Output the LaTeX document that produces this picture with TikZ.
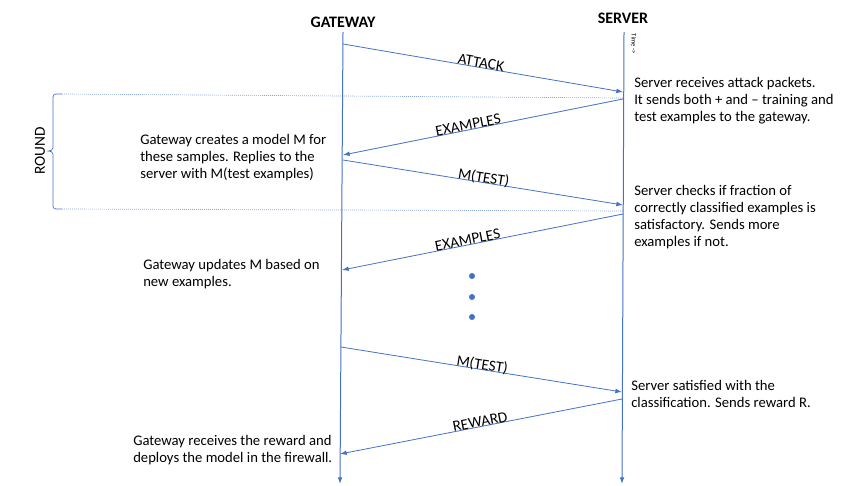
\documentclass[tikz,border=0pt]{standalone}
\usepackage{fontspec}
\setmainfont{Carlito}
\usetikzlibrary{arrows.meta}
\definecolor{lineblue}{HTML}{4472C4}

\begin{document}
\begin{tikzpicture}[x=0.75pt,y=-0.75pt,
                     msg/.style={draw=lineblue,line width=0.6pt,-{Latex[length=5pt,width=3.5pt]}},
                     life/.style={draw=lineblue,line width=0.75pt,-{Latex[length=5pt,width=3.5pt]}},
                     round line/.style={draw=lineblue,densely dotted,line width=0.5pt},
                     msg label/.style={sloped,anchor=base,inner sep=1pt,font=\fontsize{11.5}{13}\selectfont},
                     note/.style={align=left,anchor=base west,inner sep=0pt,font=\fontsize{11}{12.75}\selectfont},
                     actor/.style={font=\bfseries\fontsize{12}{14}\selectfont},
                     dot/.style={circle,fill=lineblue,inner sep=0pt,minimum size=4.5pt}
                    ]
   \useasboundingbox (0,0) rectangle (862,485);
   % actors and lifelines
   \node[actor] (gateway) at (343,22) {GATEWAY};
   \node[actor] (server) at (623,18) {SERVER};
   \node[rotate=-90,font=\fontsize{5}{6}\selectfont,inner sep=0pt] (time) at (634,44) {Time ->};
   \coordinate (gwtop) at (343,32);
   \coordinate (gwend) at (340,484);
   \coordinate (svtop) at (624,32);
   \coordinate (svend) at (622,484);
   \path[life] (gwtop) -- (gwend);
   \path[life] (svtop) -- (svend);
   % ends of the messages
   \coordinate (g1) at (343,44);   \coordinate (s1) at (623,92);
   \coordinate (s2) at (623,99);   \coordinate (g2) at (343,155);
   \coordinate (g3) at (343,160);  \coordinate (s3) at (623,205);
   \coordinate (s4) at (623,214);  \coordinate (g4) at (342,270);
   \coordinate (g5) at (341,347);  \coordinate (s5) at (622,392);
   \coordinate (s6) at (622,399);  \coordinate (g6) at (340,454);
   \path%
     (g1) edge[msg] node[msg label,pos=0.49] {ATTACK} (s1)
     (s2) edge[msg] node[msg label,pos=0.55] {EXAMPLES} (g2)
     (g3) edge[msg] node[msg label] {M(TEST)} (s3)
     (s4) edge[msg] node[msg label,pos=0.55] {EXAMPLES} (g4)
     (g5) edge[msg] node[msg label] {M(TEST)} (s5)
     (s6) edge[msg] node[msg label] {REWARD} (g6);
   \node[dot] (dot1) at (472,276) {};
   \node[dot] (dot2) at (472,297) {};
   \node[dot] (dot3) at (472,317) {};
   % the round
   \coordinate (rtop) at (62,94);
   \coordinate (rbot) at (62,209);
   \coordinate (stop) at (623,98);
   \coordinate (sbot) at (623,211);
   \path[round line] (rtop) -- (stop);
   \path[round line] (rbot) -- (sbot);
   \draw[lineblue,line width=0.5pt] (rtop) -- (56,94) to[out=180,in=90] (53,97) -- (53,148)
        to[out=-90,in=0] (48,151) to[out=0,in=90] (53,154) -- (53,206) to[out=-90,in=180] (56,209) -- (rbot);
   \node[rotate=90,font=\fontsize{11.5}{13}\selectfont] (round) at (40,151) {ROUND};
   % notes (placed at the baseline of their last line)
   \node[note] (snote1) at (634,121) {Server receives attack packets.\\It sends both + and -- training and\\test examples to the gateway.};
   \node[note] (snote2) at (634,246) {Server checks if fraction of\\correctly classified examples is\\satisfactory. Sends more\\examples if not.};
   \node[note] (snote3) at (631,407) {Server satisfied with the\\classification. Sends reward R.};
   \node[note] (gnote1) at (140,178) {Gateway creates a model M for\\these samples. Replies to the\\server with M(test examples)};
   \node[note] (gnote2) at (143,286) {Gateway updates M based on\\new examples.};
   \node[note] (gnote3) at (133,462) {Gateway receives the reward and\\deploys the model in the firewall.};
 \end{tikzpicture}
\end{document}
